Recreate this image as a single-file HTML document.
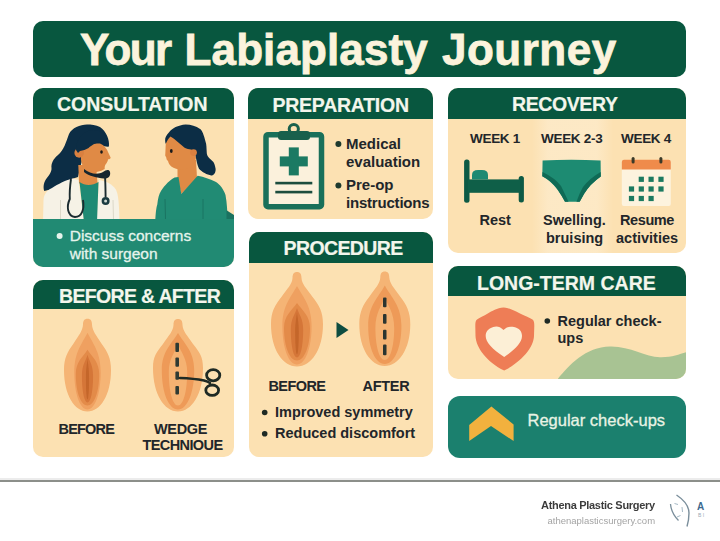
<!DOCTYPE html>
<html><head><meta charset="utf-8">
<style>
html,body{margin:0;padding:0;}
body{width:720px;height:541px;position:relative;overflow:hidden;background:#fff;font-family:"Liberation Sans",sans-serif;}
.box{position:absolute;border-radius:10px;overflow:hidden;background:#FCE1B2;}
.hd{position:absolute;left:0;top:0;right:0;background:#08573F;}
.t{position:absolute;white-space:nowrap;line-height:1;}
.h{color:#F3F6EC;font-weight:bold;font-size:19.5px;-webkit-text-stroke:0.2px #F3F6EC;}
.d{color:#22262A;font-weight:bold;}
svg{position:absolute;left:0;top:0;}
.ttl{font-size:44px;font-weight:bold;color:#FBF3DC;-webkit-text-stroke:0.8px #FBF3DC;}
</style></head>
<body>
<!-- title -->
<div class="box" style="left:33px;top:21px;width:653px;height:56px;background:#08573F;"></div>

<!-- boxes -->
<div class="box" id="cons" style="left:33px;top:88px;width:201px;height:179px;"><div class="hd" style="height:31px"></div><svg width="201" height="179" viewBox="33 88 201 179" style="position:absolute;left:0;top:0">
<path d="M87,124.5 C80,124.5 72,128 69,134 C66,142 64,150 58,155 C53,159 51,164 51.5,168 C52,173 47,177 45,181 C43,185 43.5,189 44.3,191 L52,189 C60,184 70,179 78,177 L82,160 L100,146 C104,146 107,147 108.8,146.5 C110,140 106,131 100,127 C96,125 91,124.5 87,124.5Z" fill="#0C2D45"/>
<path d="M78.3,165 L96,165 L97.5,183 C92,188 84,188 79,183Z" fill="#E08A45"/>
<path d="M43,222 L43.5,200 C44,193 48,190 52,188 C58,184 66,180 73,178.5 L78.5,180 L84,222Z" fill="#F6F2E6"/>
<path d="M99,180 C106,181 112,184 115.5,189 C118,193 119,200 119.5,222 L96.5,222Z" fill="#F6F2E6"/>
<path d="M79.5,182 C85,186 92,186 98.5,182 L97,222 L84,222Z" fill="#1F8A74"/>
<path d="M81,148 C86,145 95,143 100,143.5 C104,145 107,149 108,152 L110.6,157.4 C110.8,158.5 109.5,159 108,159.3 C108,161 107,162.5 106.5,163.3 C105,165 104.5,166.5 104.7,169 C100,172 93,173 89.6,172.7 C85,171 82,166 81,160Z" fill="#E08A45"/>
<circle cx="79.2" cy="152.9" r="4.8" fill="#D98040"/>
<path d="M76,150 C76,138 84,130 94,130 C102,130 108,136 108.8,146.5 C104,144 101,142.5 99.3,142.6 C95,143 91,146 88.6,148 C86,149.5 83,150.5 80,151 L78,153Z" fill="#0C2D45"/>
<ellipse cx="101.5" cy="152" rx="1.3" ry="1.8" fill="#1a1a1a"/>
<path d="M84,169 C90,174 98,175 103,172 C106,170 109,169 110,172 C111,176 108,179 104,178.5 C97,178 89,176 84,172Z" fill="#16262E"/>
<path d="M71,179 C70,186 69.5,193 69.8,199 C66.5,206 67,216 75,217 C82,217 84.5,209 83,200" fill="none" stroke="#1B2B2F" stroke-width="1.9"/>
<path d="M105,176 C105.5,184 105.5,191 105.6,197" fill="none" stroke="#1B2B2F" stroke-width="1.9"/>
<circle cx="105.6" cy="201" r="4" fill="#1B3B40"/>
<circle cx="105.6" cy="201" r="1.5" fill="#cfd8d0"/>
<path d="M60.5,200 L60.5,219 M113,200 L113.5,219" stroke="#DCD8C8" stroke-width="1"/>
<path d="M177.5,160 L196,160 L197,178 L181.3,194 L177.5,178Z" fill="#E08A45"/>
<path d="M170,136 C178,137 188,141 193,148 L196,158 C195,163 190,169 182.4,169.9 C178,170 174,168.5 171.3,166.6 C169.5,165 168.5,163 168,161 C167,160 166,159 166.5,158 L165.2,155.5 C165.5,152 165.5,148 165.8,143 C166,140 168,137 170,136Z" fill="#E08A45"/>
<path d="M185.7,124.4 C178,125 172,128 169.1,132.2 C166.5,135 165,138 165.2,139 C165,141 165.3,143 165.8,143.8 C167,141 168.5,138 170.5,136.5 C175,139 180,144 184.6,147.7 C187,149 189,149 191,149.5 C194,151 195.5,154 195.7,156.6 C196.5,161 197.5,166 199,168.8 C202,172 207,175 211.2,175.4 C214,176 216,172 215.6,168.8 C215,165 214,163 213.4,162.1 C209,158 207,156 206.8,153.3 C206.5,148 206.5,144 205.7,142.2 C204,135 202,130 200.1,128.9 C196,126 191,124.4 185.7,124.4Z" fill="#0C2D45"/>
<circle cx="193.5" cy="152.6" r="3.4" fill="#D98040"/>
<path d="M155,222 L155.4,218 C156,210 156.5,207 157.3,204.5 C158,198 159,194 161,191 C165,185 170,180 174.6,177.6 L178.5,177 L181.3,194 L196.5,177 L197.7,175.7 C204,177 210,179 215,181.5 C220,184 224,190 225.5,195 C227,203 227.5,212 227.5,222Z" fill="#218B74"/>
<path d="M226.5,210.3 L234,215 L234,222 L226.5,222Z" fill="#1A7260"/>
<ellipse cx="171.3" cy="151" rx="1.4" ry="1.9" fill="#1a1a1a"/>
<path d="M165,199 L165.5,219 M203,199 L203,219" stroke="#1A7462" stroke-width="1"/>
</svg><div style="position:absolute;left:0;top:130.7px;width:201px;height:49px;background:#218A73"></div></div>
<div class="box" id="prep" style="left:248px;top:88px;width:185px;height:131px;"><div class="hd" style="height:31px"></div></div>
<div class="box" id="reco" style="left:448px;top:88px;width:238px;height:165px;"><div class="hd" style="height:31px"></div><div style="position:absolute;left:84px;top:31px;width:81px;height:134px;background:linear-gradient(90deg,rgba(253,236,205,0),rgba(253,236,205,0.7) 20%,rgba(253,236,205,0.7) 80%,rgba(253,236,205,0))"></div></div>
<div class="box" id="ba" style="left:33px;top:280px;width:201px;height:177px;"><div class="hd" style="height:29px"></div></div>
<div class="box" id="proc" style="left:249px;top:232px;width:184px;height:225px;"><div class="hd" style="height:31px"></div></div>
<div class="box" id="lt" style="left:448px;top:266px;width:238px;height:113px;"><div class="hd" style="height:30px"></div><svg width="238" height="113" viewBox="448 266 238 113" style="position:absolute;left:0;top:0"><path d="M557,380 C568,366 585,347 610,346.5 C630,346 645,357 660,357.2 C672,357.5 680,354 687,352 L687,380Z" fill="#A8C393"/></svg></div>
<div class="box" id="chk" style="left:448px;top:396px;width:238px;height:62px;background:#1B806E;border-radius:12px;"></div>

<!-- footer line -->
<div style="position:absolute;left:0;top:478px;width:720px;height:2px;background:#ececec"></div>
<div style="position:absolute;left:0;top:480px;width:720px;height:2px;background:#8c8f8a"></div>

<svg width="720" height="541" viewBox="0 0 720 541">
<defs><filter id="soft" x="-20%" y="-20%" width="140%" height="140%"><feGaussianBlur stdDeviation="0.6"/></filter></defs><rect x="266" y="134.7" width="55.5" height="72" rx="2" fill="#FBF1DC" stroke="#19705A" stroke-width="5.5"/>
<circle cx="293.8" cy="129" r="4.6" fill="none" stroke="#19604C" stroke-width="3"/>
<rect x="278" y="131" width="32" height="9" rx="3" fill="#19604C"/>
<rect x="279.8" y="156.4" width="28" height="10" fill="#1B7A63"/>
<rect x="288.8" y="147.4" width="10" height="28" fill="#1B7A63"/>
<rect x="275.3" y="181.8" width="37" height="2.6" fill="#1B4D3E"/>
<rect x="275.3" y="190.8" width="37" height="2.6" fill="#1B4D3E"/>
<rect x="464.1" y="159.4" width="5.4" height="43.4" rx="2.5" fill="#0D5A45"/>
<rect x="518.7" y="176" width="5.2" height="26.5" rx="2.5" fill="#0D5A45"/>
<rect x="468" y="179.4" width="52" height="13.4" fill="#0F5F48"/>
<path d="M472,179.6 L472,175 Q472,170 478,170 L482,170 Q488,170 488,175 L488,179.6Z" fill="#1E8A72"/>
<path d="M542.6,160.6 Q571,158.8 600.6,160.6 L600.8,176.5 Q590,184 584,194 Q581,199.5 579.6,201.8 L565,201.8 Q562,196 557,189 Q550,180 542.3,176.2Z" fill="#1D8B72"/>
<path d="M542.3,176.2 Q552,181 558,190 Q562,196 565,201.8 L568.5,201.8 Q565,194 561,186 Q555,178 542.5,172Z" fill="#0F6A55"/>
<path d="M600.8,176.5 Q590,184 584,194 Q581,199.5 579.6,201.8 L576.5,201.8 Q579,194 583,187 Q590,178 600.7,172Z" fill="#0F6A55"/>
<rect x="621.8" y="160" width="49" height="46" rx="2" fill="#FDF3DE"/>
<path d="M621.8,169.6 L621.8,162 Q621.8,159.7 624,159.7 L668.6,159.7 Q670.8,159.7 670.8,162 L670.8,169.6Z" fill="#EF8B4B"/>
<rect x="631.6" y="157" width="3" height="6.5" rx="1.5" fill="#3B3A28"/>
<rect x="659.4" y="157" width="3" height="6.5" rx="1.5" fill="#3B3A28"/>
<rect x="638.7" y="176.7" width="5.2" height="5.2" fill="#1C7A60"/>
<rect x="648.5" y="176.7" width="5.2" height="5.2" fill="#1C7A60"/>
<rect x="658.4" y="176.7" width="5.2" height="5.2" fill="#1C7A60"/>
<rect x="628.9" y="186.4" width="5.2" height="5.2" fill="#1C7A60"/>
<rect x="638.7" y="186.4" width="5.2" height="5.2" fill="#1C7A60"/>
<rect x="648.5" y="186.4" width="5.2" height="5.2" fill="#1C7A60"/>
<rect x="658.4" y="186.4" width="5.2" height="5.2" fill="#1C7A60"/>
<rect x="628.9" y="195.9" width="5.2" height="5.2" fill="#1C7A60"/>
<rect x="638.7" y="195.9" width="5.2" height="5.2" fill="#1C7A60"/>
<rect x="648.5" y="195.9" width="5.2" height="5.2" fill="#1C7A60"/>
<g filter="url(#soft)"><path d="M503.5,307.5 C497,308 492,311 487.8,313.6 C484,316 479,318 477,319.5 C475.5,320.5 475.3,323 475.3,326 L475.5,336 C476,348 487,362 504.2,370.6 C521,362 533.5,348 534,336 L534.3,326 C534.3,323 534,320.5 532.5,319.5 C530,318 525,316 520,313.6 C515,311 510,308 503.5,307.5Z" fill="#EE7D57"/>
<path d="M503.5,330 C500,326 496,326 493.3,327 C488,328.5 485.7,332 485.7,336 C485.7,342 492,349 504.2,357 C516,349 522,342 522,336 C522,331 519,328 514,327 C510,326 506,327 503.5,330Z" fill="#FCEFD6"/></g>
<path d="M491.4,406.5 L513.6,424.5 L513.6,441.1 L491,425.9 L469.2,441.1 L469.2,425Z" fill="#F2B13E"/>
<path d="M336.5,322 L348.5,330 L336.5,338Z" fill="#0E4D40"/>
<g filter="url(#soft)">
<path d="M87.5,318.7 C90.7,318.7 92.0,320.7 92.0,324.7 C92.5,330.7 95.7,334.7 101.6,343.7 C107.5,351.7 111.0,358.0 111.0,370.0 C111.0,394.9 100.4,411.5 87.5,411.5 C74.6,411.5 64.0,394.9 64.0,370.0 C64.0,358.0 67.5,351.7 73.4,343.7 C79.3,334.7 82.5,330.7 83.0,324.7 C83.0,320.7 84.3,318.7 87.5,318.7Z" fill="#F5B475"/>
<path d="M87.5,332.7 C93.4,344.5 100.7,352.4 100.7,372.0 C100.7,394.5 94.7,409.5 87.5,409.5 C80.3,409.5 74.3,394.5 74.3,372.0 C74.3,352.4 81.6,344.5 87.5,332.7Z" fill="#EFA060"/>
<path d="M87.5,349.7 C92.2,357.0 99.2,361.9 99.2,374.0 C99.2,392.9 94.0,405.5 87.5,405.5 C81.0,405.5 75.8,392.9 75.8,374.0 C75.8,361.9 82.8,357.0 87.5,349.7Z" fill="#E38B4A"/>
<path d="M87.5,354.7 C89.2,361.1 93.1,364.3 93.1,376.0 C93.1,391.9 90.6,402.5 87.5,402.5 C84.4,402.5 81.9,391.9 81.9,376.0 C81.9,364.3 85.8,361.1 87.5,354.7Z" fill="#D57639"/>
<path d="M87.5,358.7 C88.0,364.5 89.1,367.4 89.1,378.0 C89.1,390.9 88.4,399.5 87.5,399.5 C86.6,399.5 85.9,390.9 85.9,378.0 C85.9,367.4 87.0,364.5 87.5,358.7Z" fill="#C4662A"/>
</g>
<g filter="url(#soft)">
<path d="M297.0,272.0 C300.1,272.0 301.5,274.0 301.5,278.0 C301.9,284.0 306.1,288.0 312.6,297.0 C319.1,305.0 323.0,312.0 323.0,324.0 C323.0,349.5 311.3,366.5 297.0,366.5 C282.7,366.5 271.0,349.5 271.0,324.0 C271.0,312.0 274.9,305.0 281.4,297.0 C287.9,288.0 292.1,284.0 292.5,278.0 C292.5,274.0 293.9,272.0 297.0,272.0Z" fill="#F5B475"/>
<path d="M297.0,286.0 C303.6,298.0 311.6,306.0 311.6,326.0 C311.6,349.1 305.0,364.5 297.0,364.5 C289.0,364.5 282.4,349.1 282.4,326.0 C282.4,306.0 290.4,298.0 297.0,286.0Z" fill="#EFA060"/>
<path d="M297.0,303.0 C302.2,310.5 310.0,315.5 310.0,328.0 C310.0,347.5 304.1,360.5 297.0,360.5 C289.9,360.5 284.0,347.5 284.0,328.0 C284.0,315.5 291.8,310.5 297.0,303.0Z" fill="#E38B4A"/>
<path d="M297.0,308.0 C298.9,314.6 303.2,317.9 303.2,330.0 C303.2,346.5 300.4,357.5 297.0,357.5 C293.6,357.5 290.8,346.5 290.8,330.0 C290.8,317.9 295.1,314.6 297.0,308.0Z" fill="#D57639"/>
<path d="M297.0,312.0 C297.5,318.0 298.8,321.0 298.8,332.0 C298.8,345.5 298.0,354.5 297.0,354.5 C296.0,354.5 295.2,345.5 295.2,332.0 C295.2,321.0 296.5,318.0 297.0,312.0Z" fill="#C4662A"/>
</g>
<g filter="url(#soft)">
<path d="M178.0,319.0 C181.2,319.0 182.5,321.0 182.5,325.0 C182.9,331.0 186.8,335.0 193.0,344.0 C199.2,352.0 203.0,356.0 203.0,368.0 C203.0,394.1 191.8,411.5 178.0,411.5 C164.2,411.5 153.0,394.1 153.0,368.0 C153.0,356.0 156.8,352.0 163.0,344.0 C169.2,335.0 173.1,331.0 173.5,325.0 C173.5,321.0 174.8,319.0 178.0,319.0Z" fill="#F5B475"/>
<path d="M178.0,333.0 C184.5,344.1 194.2,351.5 194.2,370.0 C194.2,393.7 186.9,409.5 178.0,409.5 C169.1,409.5 161.8,393.7 161.8,370.0 C161.8,351.5 171.5,344.1 178.0,333.0Z" fill="#EE9A58"/>
<path d="M178.0,344.0 C180.8,352.4 187.2,358.0 187.2,372.0 C187.2,392.1 183.1,405.5 178.0,405.5 C172.9,405.5 168.8,392.1 168.8,372.0 C168.8,358.0 175.2,352.4 178.0,344.0Z" fill="#F5B272"/>
</g>
<g filter="url(#soft)">
<path d="M384.8,271.5 C387.9,271.5 389.3,273.5 389.3,277.5 C389.8,283.5 393.7,287.5 400.1,296.5 C406.5,304.5 410.3,312.0 410.3,324.0 C410.3,349.2 398.8,366.0 384.8,366.0 C370.8,366.0 359.3,349.2 359.3,324.0 C359.3,312.0 363.1,304.5 369.5,296.5 C375.9,287.5 379.9,283.5 380.3,277.5 C380.3,273.5 381.7,271.5 384.8,271.5Z" fill="#F5B475"/>
<path d="M384.8,285.5 C391.4,297.6 401.4,305.8 401.4,326.0 C401.4,348.8 393.9,364.0 384.8,364.0 C375.7,364.0 368.2,348.8 368.2,326.0 C368.2,305.8 378.2,297.6 384.8,285.5Z" fill="#EE9A58"/>
<path d="M384.8,296.5 C387.6,305.9 394.2,312.2 394.2,328.0 C394.2,347.2 390.0,360.0 384.8,360.0 C379.6,360.0 375.4,347.2 375.4,328.0 C375.4,312.2 382.0,305.9 384.8,296.5Z" fill="#F5B272"/>
</g>
<rect x="383" y="297.4" width="3.5" height="9.8" rx="1" fill="#2B3530"/>
<rect x="383" y="314" width="3.5" height="9.8" rx="1" fill="#2B3530"/>
<rect x="383" y="329.7" width="3.5" height="9.8" rx="1" fill="#2B3530"/>
<rect x="383" y="344.4" width="3.5" height="10.8" rx="1" fill="#2B3530"/>
<rect x="175.4" y="342.7" width="3.6" height="9.3" rx="1" fill="#2E3A33"/>
<rect x="175.4" y="357.5" width="3.6" height="9.3" rx="1" fill="#2E3A33"/>
<rect x="175.4" y="371.4" width="3.6" height="8.3" rx="1" fill="#2E3A33"/>
<rect x="175.4" y="386" width="3.6" height="8.5" rx="1" fill="#2E3A33"/>
<path d="M180,378 Q194,378.5 204,380.5 Q208,381.5 210,383" fill="none" stroke="#1E2A24" stroke-width="2.6" stroke-linecap="round"/>
<ellipse cx="213.2" cy="375.2" rx="6.6" ry="5.6" fill="none" stroke="#1E2A24" stroke-width="2.8"/>
<ellipse cx="212.2" cy="390.2" rx="6.4" ry="5.2" fill="none" stroke="#1E2A24" stroke-width="2.8"/>
<path d="M676.5,495 C684,500 689,506 689,513 C689,518 688,523 687,526.5" fill="none" stroke="#7A8E9B" stroke-width="1.4"/>
<path d="M670.5,504 C671,510 674,516 678.5,520.5" fill="none" stroke="#7A8E9B" stroke-width="1.3"/>
<path d="M674.5,503.5 L678,504.5 M682,507 L682.5,512 M677,517 L680.5,515.5" fill="none" stroke="#9ab0be" stroke-width="0.9"/>
<circle cx="59.6" cy="236.1" r="3" fill="#E6F4EC"/>
<circle cx="338.4" cy="144" r="3" fill="#1E3A2E"/>
<circle cx="338.4" cy="185.6" r="3" fill="#1E3A2E"/>
<circle cx="264.7" cy="412.5" r="2.8" fill="#1E2A24"/>
<circle cx="264.7" cy="433.8" r="2.8" fill="#1E2A24"/>
<circle cx="547.3" cy="321" r="2.8" fill="#1E2A24"/>
</svg>

<!-- texts -->
<div class="t ttl" style="left:80px;top:28px;letter-spacing:-1.6px">Your</div>
<div class="t ttl" style="left:184.6px;top:28px;letter-spacing:0.1px">Labiaplasty</div>
<div class="t ttl" style="left:442px;top:28px;letter-spacing:0.5px">Journey</div>
<div class="t h" style="left:57px;top:95.4px;letter-spacing:0px">CONSULTATION</div>
<div class="t h" style="left:272.5px;top:95.8px;letter-spacing:-0.25px">PREPARATION</div>
<div class="t h" style="left:512px;top:94.9px;letter-spacing:-0.4px">RECOVERY</div>
<div class="t h" style="left:59px;top:287.4px;letter-spacing:-0.67px">BEFORE &amp; AFTER</div>
<div class="t h" style="left:283.5px;top:239px;letter-spacing:-0.6px">PROCEDURE</div>
<div class="t h" style="left:477px;top:274px;letter-spacing:0px">LONG-TERM CARE</div>


<!-- consultation band text -->
<div class="t" style="left:69.7px;top:227.5px;font-size:15.5px;color:#E6F4EC;-webkit-text-stroke:0.3px #E6F4EC">Discuss concerns</div>
<div class="t" style="left:69.7px;top:246px;font-size:15.5px;color:#E6F4EC;-webkit-text-stroke:0.3px #E6F4EC">with surgeon</div>
<!-- preparation -->
<div class="t d" style="left:346px;top:136px;font-size:15px">Medical</div>
<div class="t d" style="left:346px;top:154px;font-size:15px">evaluation</div>
<div class="t d" style="left:346px;top:177px;font-size:15px">Pre-op</div>
<div class="t d" style="left:346px;top:194.5px;font-size:15px;letter-spacing:-0.2px">instructions</div>
<!-- recovery -->
<div class="t d" style="left:470px;top:131.5px;font-size:13.5px;letter-spacing:-0.3px">WEEK 1</div>
<div class="t d" style="left:541px;top:131.5px;font-size:13.5px;letter-spacing:-0.3px">WEEK 2-3</div>
<div class="t d" style="left:621px;top:131.5px;font-size:13.5px;letter-spacing:-0.3px">WEEK 4</div>
<div class="t d" style="left:479.5px;top:213px;font-size:14.5px">Rest</div>
<div class="t d" style="left:543px;top:213px;font-size:14.5px">Swelling.</div>
<div class="t d" style="left:546px;top:230.5px;font-size:14.5px">bruising</div>
<div class="t d" style="left:620px;top:213px;font-size:14.5px;letter-spacing:-0.4px">Resume</div>
<div class="t d" style="left:616px;top:230.5px;font-size:14.5px">activities</div>
<!-- before & after -->
<div class="t d" style="left:58.5px;top:422px;font-size:14.5px;letter-spacing:-0.8px">BEFORE</div>
<div class="t d" style="left:154px;top:422px;font-size:14.5px;letter-spacing:-0.35px">WEDGE</div>
<div class="t d" style="left:142.5px;top:437.5px;font-size:14.5px;letter-spacing:-0.6px">TECHNIOUE</div>
<!-- procedure -->
<div class="t d" style="left:268.5px;top:378.5px;font-size:14.5px;letter-spacing:-0.6px">BEFORE</div>
<div class="t d" style="left:362.5px;top:378.5px;font-size:14.5px;letter-spacing:-0.3px">AFTER</div>
<div class="t d" style="left:275px;top:404.5px;font-size:14.5px">Improved symmetry</div>
<div class="t d" style="left:275px;top:425.5px;font-size:14.5px">Reduced discomfort</div>
<!-- long-term -->
<div class="t d" style="left:557.5px;top:314px;font-size:14.5px">Regular check-</div>
<div class="t d" style="left:557.5px;top:330.5px;font-size:14.5px">ups</div>
<!-- checkups -->
<div class="t" style="left:527.5px;top:411.5px;font-size:16.5px;color:#E9F3E4;-webkit-text-stroke:0.3px #E9F3E4">Regular check-ups</div>
<!-- footer -->
<div class="t" style="left:541px;top:500.2px;font-size:11px;letter-spacing:-0.3px;font-weight:bold;color:#3c3c3c;filter:blur(0.25px)">Athena Plastic Surgery</div>
<div class="t" style="left:547.5px;top:516px;font-size:9.5px;color:#a4a4a4;filter:blur(0.3px)">athenaplasticsurgery.com</div>
<div class="t" style="left:697px;top:502px;font-size:10px;font-weight:bold;color:#3D6A90">A</div>
<div class="t" style="left:698px;top:513px;font-size:5px;color:#9aaab5">B I</div>
</body></html>
